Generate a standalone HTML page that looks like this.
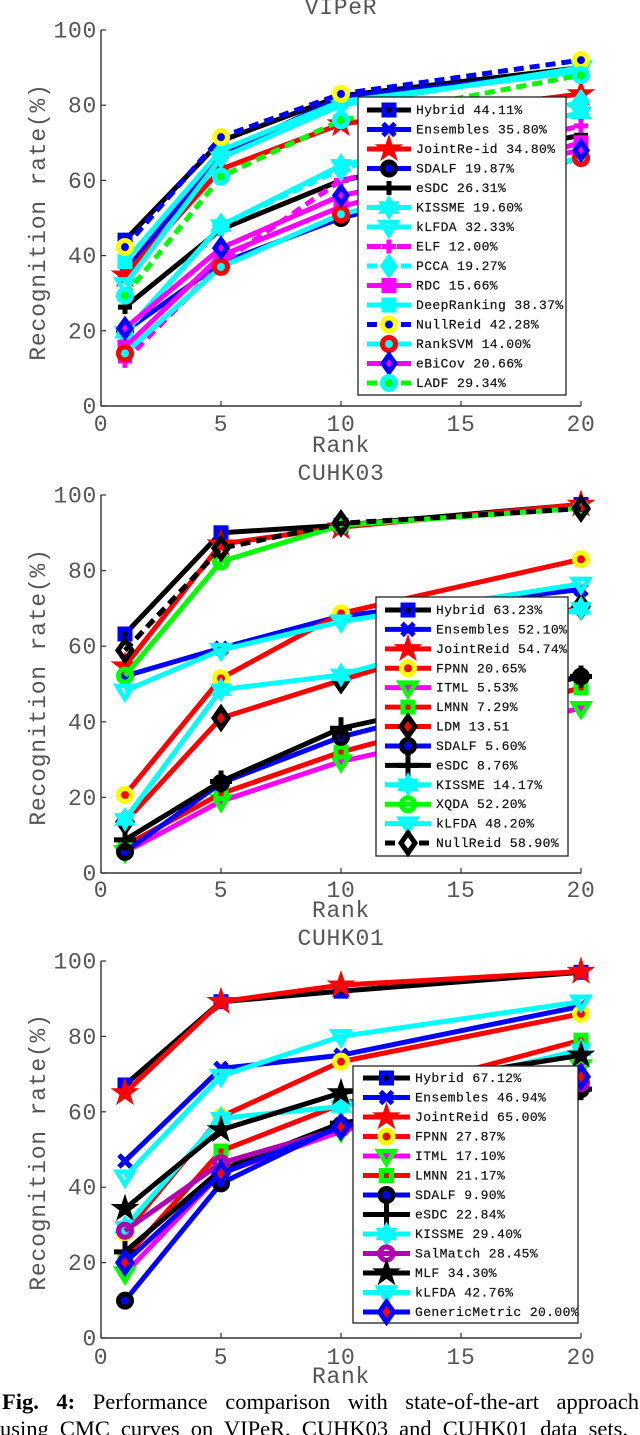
<!DOCTYPE html>
<html lang="en">
<head>
<meta charset="utf-8">
<title>CMC curves on VIPeR, CUHK03 and CUHK01</title>
<style>
  html, body { margin: 0; padding: 0; background: #fff; }
  #page { position: relative; width: 640px; height: 1435px; overflow: hidden; background: #fff; }
  svg { position: absolute; left: 0; top: 0; }
  svg text { font-family: "Liberation Mono", monospace; }
  .cap { position: absolute; font-family: "Liberation Serif", serif; font-size: 22.5px; line-height: 24px; color: #000; white-space: nowrap; text-align: justify; text-align-last: justify; }
</style>
</head>
<body>
<div id="page">
  <svg id="figure" width="640" height="1435" viewBox="0 0 640 1435"></svg>
  <div class="cap" style="left:2px;top:1390px;width:637px"><b>Fig. 4:</b> Performance comparison with state-of-the-art approach</div>
  <div class="cap" style="left:0;top:1417px;width:628px">using CMC curves on VIPeR, CUHK03 and CUHK01 data sets.</div>
</div>
<script>
/* ---------- shared axis data ---------- */
const ranks = [1, 5, 10, 20];
const xTickLabels = [0, 5, 10, 15, 20];
const yTickLabels = [0, 20, 40, 60, 80, 100];

/* ---------- VIPeR values ---------- */
const viperHybrid = [44.11, 70.5, 82.5, 90];
const viperEnsembles = [35.8, 67, 82, 89];
const viperJoint = [34.8, 63, 75, 83];
const viperSdalf = [19.87, 38, 50, 66];
const viperEsdc = [26.31, 47, 60, 72];
const viperKissme = [19.6, 48, 64, 78];
const viperKlfda = [32.33, 66, 80, 90];
const viperElf = [12, 38, 60, 74.5];
const viperPcca = [19.27, 48, 63, 81];
const viperRdc = [15.66, 40, 53, 70];
const viperDeep = [38.37, 68, 81, 89];
const viperNull = [42.28, 71.5, 83, 92];
const viperRank = [14, 37, 51, 66];
const viperEbicov = [20.66, 42, 56, 68];
const viperLadf = [29.34, 61, 76, 88];
const viperLabels = ['Hybrid 44.11%', 'Ensembles 35.80%', 'JointRe-id 34.80%', 'SDALF 19.87%', 'eSDC 26.31%', 'KISSME 19.60%', 'kLFDA 32.33%', 'ELF 12.00%', 'PCCA 19.27%', 'RDC 15.66%', 'DeepRanking 38.37%', 'NullReid 42.28%', 'RankSVM 14.00%', 'eBiCov 20.66%', 'LADF 29.34%'];

/* ---------- CUHK03 values ---------- */
const c03Hybrid = [63.23, 90, 92, 97.5];
const c03Ensembles = [52.1, 59.5, 68, 75];
const c03Joint = [54.74, 87, 91.5, 97.5];
const c03Fpnn = [20.65, 51.5, 68.7, 83];
const c03Itml = [5.53, 19, 29.5, 43.6];
const c03Lmnn = [7.29, 21, 32, 49];
const c03Ldm = [13.51, 41, 51, 70.5];
const c03Sdalf = [5.6, 23.8, 36, 52];
const c03Esdc = [8.76, 24.2, 38.3, 52];
const c03Kissme = [14.17, 48.5, 52.4, 70];
const c03Xqda = [52.2, 82.4, 92, 96.5];
const c03Klfda = [48.2, 59, 66.5, 76.5];
const c03Null = [58.9, 85.9, 92.5, 96.4];
const c03Labels = ['Hybrid 63.23%', 'Ensembles 52.10%', 'JointReid 54.74%', 'FPNN 20.65%', 'ITML 5.53%', 'LMNN 7.29%', 'LDM 13.51', 'SDALF 5.60%', 'eSDC 8.76%', 'KISSME 14.17%', 'XQDA 52.20%', 'kLFDA 48.20%', 'NullReid 58.90%'];

/* ---------- CUHK01 values ---------- */
const c01Hybrid = [67.12, 89.2, 92, 97];
const c01Ensembles = [46.94, 71.5, 75, 88];
const c01Joint = [65, 89.2, 93.6, 97.2];
const c01Fpnn = [27.87, 58.7, 73.3, 86];
const c01Itml = [17.1, 43.7, 54.8, 72];
const c01Lmnn = [21.17, 49.6, 62, 79];
const c01Sdalf = [9.9, 41, 56.5, 66];
const c01Esdc = [22.84, 44.6, 57, 66];
const c01Kissme = [29.4, 58.3, 61.4, 76.4];
const c01Salmatch = [28.45, 46.4, 55.6, 67.6];
const c01Mlf = [34.3, 55.2, 65, 75];
const c01Klfda = [42.76, 69.5, 80, 89.2];
const c01Generic = [20, 43.6, 56, 69.3];
const c01Labels = ['Hybrid 67.12%', 'Ensembles 46.94%', 'JointReid 65.00%', 'FPNN 27.87%', 'ITML 17.10%', 'LMNN 21.17%', 'SDALF 9.90%', 'eSDC 22.84%', 'KISSME 29.40%', 'SalMatch 28.45%', 'MLF 34.30%', 'kLFDA 42.76%', 'GenericMetric 20.00%'];

/* ---------- series appearance ---------- */
const BLK = '#000000', BLU = '#0000ff', RED = '#ff0000', CYN = '#00ffff', MAG = '#ff00ff', GRN = '#00ff00', YEL = '#ffff00', PUR = '#b000b0';
const sHybrid = { line: BLK, marker: 'square', edge: BLU, face: BLK };
const sEnsembles = { line: BLU, marker: 'x', edge: BLU, face: BLU };
const sJoint = { line: RED, marker: 'star', edge: RED, face: RED };
const sSdalf = { line: BLU, marker: 'circle', edge: BLK, face: BLU };
const sEsdc = { line: BLK, marker: 'plus', edge: BLK, face: BLK };
const sKissme = { line: CYN, marker: 'hexagram', edge: CYN, face: CYN };
const sKlfda = { line: CYN, marker: 'triangle', edge: CYN, face: 'none' };
const sElf = { line: MAG, dash: true, legDash: '14 16 14', marker: 'plus', edge: MAG, face: MAG };
const sPcca = { line: CYN, dash: true, legDash: '10 24 10', marker: 'diamond', edge: CYN, face: CYN };
const sRdc = { line: MAG, marker: 'square', edge: MAG, face: MAG };
const sDeep = { line: CYN, marker: 'square', edge: CYN, face: CYN };
const sNullV = { line: BLU, dash: true, legDash: '10 24 10', marker: 'circle', edge: YEL, face: BLU };
const sRank = { line: CYN, marker: 'circle', edge: RED, face: CYN };
const sEbicov = { line: MAG, marker: 'diamond', edge: BLU, face: MAG };
const sLadf = { line: GRN, dash: true, legDash: '10 24 10', marker: 'circle', edge: CYN, face: GRN };
const sFpnn = { line: RED, marker: 'circle', edge: YEL, face: RED };
const sItml = { line: MAG, marker: 'triangle', edge: GRN, face: MAG };
const sLmnn = { line: RED, marker: 'square', edge: GRN, face: RED };
const sLdm = { line: RED, marker: 'diamond', edge: BLK, face: RED };
const sXqda = { line: GRN, marker: 'circle', edge: GRN, face: 'none' };
const sNull3 = { line: BLK, dash: true, legDash: '10 24 10', marker: 'diamond', edge: BLK, face: 'none' };
const sSal = { line: PUR, marker: 'circle', edge: PUR, face: 'none' };
const sMlf = { line: BLK, marker: 'star', edge: BLK, face: BLK };
const sGeneric = { line: BLU, marker: 'diamond', edge: BLU, face: RED };

/* ---------- panels ---------- */
const panels = [
  {
    slug: 'viper', title: 'VIPeR', yTop: 30, yBottom: 406, titleY: 14, tickY: 431, rankY: 452, yTitleMid: 222,
    box: [358, 97, 208, 298], legY: 110, legStep: 19.5, legX1: 367, legX2: 411, legText: 416,
    plusArm: 7, diamond: [6, 8.5], labels: viperLabels,
    series: [[viperHybrid, sHybrid], [viperEnsembles, sEnsembles], [viperJoint, sJoint], [viperSdalf, sSdalf], [viperEsdc, sEsdc], [viperKissme, sKissme], [viperKlfda, sKlfda], [viperElf, sElf], [viperPcca, sPcca], [viperRdc, sRdc], [viperDeep, sDeep], [viperNull, sNullV], [viperRank, sRank], [viperEbicov, sEbicov], [viperLadf, sLadf]]
  },
  {
    slug: 'cuhk03', title: 'CUHK03', yTop: 495, yBottom: 873, titleY: 480, tickY: 897, rankY: 917, yTitleMid: 687,
    box: [376, 597, 192, 259], legY: 610, legStep: 19.42, legX1: 385, legX2: 431, legText: 436,
    plusArm: 11, diamond: [7, 10], labels: c03Labels,
    series: [[c03Hybrid, sHybrid], [c03Ensembles, sEnsembles], [c03Joint, sJoint], [c03Fpnn, sFpnn], [c03Itml, sItml], [c03Lmnn, sLmnn], [c03Ldm, sLdm], [c03Sdalf, sSdalf], [c03Esdc, sEsdc], [c03Kissme, sKissme], [c03Xqda, sXqda], [c03Klfda, sKlfda], [c03Null, sNull3]]
  },
  {
    slug: 'cuhk01', title: 'CUHK01', yTop: 961, yBottom: 1338, titleY: 945, tickY: 1364, rankY: 1383, yTitleMid: 1152,
    box: [353, 1066, 225, 257], legY: 1078, legStep: 19.5, legX1: 363, legX2: 410, legText: 415,
    plusArm: 11, diamond: [7, 10], labels: c01Labels,
    series: [[c01Hybrid, sHybrid], [c01Ensembles, sEnsembles], [c01Joint, sJoint], [c01Fpnn, sFpnn], [c01Itml, sItml], [c01Lmnn, sLmnn], [c01Sdalf, sSdalf], [c01Esdc, sEsdc], [c01Kissme, sKissme], [c01Salmatch, sSal], [c01Mlf, sMlf], [c01Klfda, sKlfda], [c01Generic, sGeneric]]
  }
];

/* ---------- helpers ---------- */
const NS = 'http://www.w3.org/2000/svg';
const root = document.getElementById('figure');
const AXIS = '#333333';
const LABEL = '#555555';
const X_LEFT = 101, X_RIGHT = 581, X_MAX = 20;

function make(tag, attrs, parent) {
  const n = document.createElementNS(NS, tag);
  for (const k in attrs) n.setAttribute(k, attrs[k]);
  parent.appendChild(n);
  return n;
}
function xScale(v) { return X_LEFT + (v / X_MAX) * (X_RIGHT - X_LEFT); }
function yScale(p, v) { return p.yBottom - (v / 100) * (p.yBottom - p.yTop); }
function starPoints(cx, cy, R, r, n) {
  const pts = [];
  for (let i = 0; i < n * 2; i++) {
    const a = -Math.PI / 2 + i * Math.PI / n;
    const q = i % 2 ? r : R;
    pts.push((cx + q * Math.cos(a)).toFixed(2) + ',' + (cy + q * Math.sin(a)).toFixed(2));
  }
  return pts.join(' ');
}
function drawMarker(g, p, s, cx, cy) {
  const base = { stroke: s.edge, 'stroke-width': 5, fill: s.face, 'stroke-miterlimit': 10 };
  if (s.marker === 'square') {
    make('rect', Object.assign({}, base, { x: cx - 5, y: cy - 5, width: 10, height: 10 }), g);
  } else if (s.marker === 'x') {
    make('path', { d: `M${cx - 6} ${cy - 6}L${cx + 6} ${cy + 6}M${cx + 6} ${cy - 6}L${cx - 6} ${cy + 6}`, stroke: s.edge, 'stroke-width': 5, fill: 'none' }, g);
  } else if (s.marker === 'plus') {
    const a = p.plusArm;
    make('path', { d: `M${cx - a} ${cy}L${cx + a} ${cy}M${cx} ${cy - a}L${cx} ${cy + a}`, stroke: s.edge, 'stroke-width': 5, fill: 'none' }, g);
  } else if (s.marker === 'circle') {
    make('circle', Object.assign({}, base, { cx: cx, cy: cy, r: 6.5 }), g);
  } else if (s.marker === 'diamond') {
    const d = p.diamond;
    make('polygon', Object.assign({}, base, { points: `${cx - d[0]},${cy} ${cx},${cy - d[1]} ${cx + d[0]},${cy} ${cx},${cy + d[1]}` }), g);
  } else if (s.marker === 'triangle') {
    make('polygon', Object.assign({}, base, { points: `${cx - 8},${cy - 5} ${cx + 8},${cy - 5} ${cx},${cy + 8}`, 'stroke-width': 4.5 }), g);
  } else if (s.marker === 'star') {
    make('polygon', { points: starPoints(cx, cy, 13.5, 5.2, 5), fill: s.edge, stroke: s.edge, 'stroke-width': 1 }, g);
  } else if (s.marker === 'hexagram') {
    make('polygon', { points: starPoints(cx, cy, 11.5, 6.6, 6), fill: s.edge, stroke: s.edge, 'stroke-width': 1 }, g);
  }
}

/* ---------- draw ---------- */
panels.forEach(function (p) {
  const chart = make('g', {}, root);
  
  

  const title = make('text', { x: 341, y: p.titleY, 'text-anchor': 'middle', 'font-size': 23, 'letter-spacing': 0.7, fill: LABEL }, chart);
  title.textContent = p.title;
  
  

  /* axes */
  const axisY = make('line', { x1: X_LEFT, x2: X_LEFT, y1: p.yTop, y2: p.yBottom, stroke: AXIS, 'stroke-width': 1.4 }, chart);
  
  
  const axisX = make('line', { x1: X_LEFT, x2: X_RIGHT, y1: p.yBottom, y2: p.yBottom, stroke: AXIS, 'stroke-width': 1.4 }, chart);
  
  

  yTickLabels.forEach(function (v) {
    const y = yScale(p, v);
    const tick = make('line', { x1: X_LEFT, x2: X_LEFT + 5, y1: y, y2: y, stroke: AXIS, 'stroke-width': 1.2 }, chart);
    
    
    const lab = make('text', { x: 97, y: y + 7.5, 'text-anchor': 'end', 'font-size': 23, 'letter-spacing': 0.7, fill: LABEL }, chart);
    lab.textContent = v;
    
    
  });
  xTickLabels.forEach(function (v) {
    const x = xScale(v);
    const tick = make('line', { x1: x, x2: x, y1: p.yBottom, y2: p.yBottom - 5, stroke: AXIS, 'stroke-width': 1.2 }, chart);
    
    
    const lab = make('text', { x: x, y: p.tickY, 'text-anchor': 'middle', 'font-size': 23, 'letter-spacing': 0.7, fill: LABEL }, chart);
    lab.textContent = v;
    
    
  });

  const rank = make('text', { x: 341, y: p.rankY, 'text-anchor': 'middle', 'font-size': 23, 'letter-spacing': 0.7, fill: LABEL }, chart);
  rank.textContent = 'Rank';
  
  

  const yt = make('text', { x: 0, y: 0, transform: `translate(45 ${p.yTitleMid}) rotate(-90)`, 'text-anchor': 'middle', 'font-size': 23, 'letter-spacing': 0.8, fill: LABEL }, chart);
  yt.textContent = 'Recognition rate(%)';
  
  

  /* series */
  p.series.forEach(function (entry, i) {
    const values = entry[0], s = entry[1];
    const slug = p.labels[i].split(' ')[0].toLowerCase();
    const g = make('g', {}, chart);
    
    
    const pts = values.map(function (v, k) { return xScale(ranks[k]) + ',' + yScale(p, v); }).join(' ');
    const attrs = { points: pts, fill: 'none', stroke: s.line, 'stroke-width': 5, 'stroke-linejoin': 'miter' };
    if (s.dash) attrs['stroke-dasharray'] = '10 6';
    const line = make('polyline', attrs, g);
    
    
    values.forEach(function (v, k) {
      const mg = make('g', {}, g);
      
      
      drawMarker(mg, p, s, xScale(ranks[k]), yScale(p, v));
    });
  });

  /* legend */
  const leg = make('g', {}, chart);
  
  
  const box = make('rect', { x: p.box[0], y: p.box[1], width: p.box[2], height: p.box[3], fill: '#fff', stroke: '#222', 'stroke-width': 1.3 }, leg);
  
  
  p.labels.forEach(function (label, i) {
    const s = p.series[i][1];
    const y = p.legY + i * p.legStep;
    const mid = (p.legX1 + p.legX2) / 2;
    const e = make('g', {}, leg);
    
    
    const a = { x1: p.legX1, x2: p.legX2, y1: y, y2: y, stroke: s.line, 'stroke-width': 5 };
    if (s.legDash) a['stroke-dasharray'] = s.legDash;
    make('line', a, e);
    drawMarker(e, p, s, mid, y);
    const t = make('text', { x: p.legText, y: y + 4, 'font-size': 13, 'letter-spacing': 0.4, fill: '#111', 'font-weight': 400, stroke: '#111', 'stroke-width': 0.2 }, e);
    t.textContent = label;
    
    
  });
});
</script>
</body>
</html>
